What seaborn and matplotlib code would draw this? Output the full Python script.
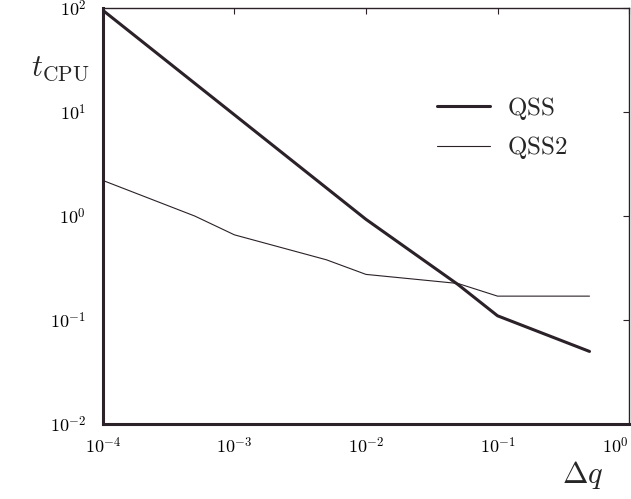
import math
import matplotlib
matplotlib.use('Agg')
import matplotlib.pyplot as plt
from matplotlib.lines import Line2D
import seaborn as sns
import pandas as pd

# step size and cpu time
dq_qss = [1e-4, 1e-3, 1e-2, 5e-2, 1e-1, 5e-1]
t_qss = [95, 9.4, 0.93, 0.22, 0.11, 0.05]

dq_qss2 = [1e-4, 5e-4, 1e-3, 5e-3, 1e-2, 5e-2, 1e-1, 5e-1]
t_qss2 = [2.2, 1.0, 0.66, 0.38, 0.275, 0.225, 0.17, 0.17]

x_ticks = [1e-4, 1e-3, 1e-2, 1e-1, 1e0]
y_ticks = [1e-2, 1e-1, 1e0, 1e1, 1e2]

ink = '#2b2128'

sns.set_style('white')
plt.rcParams['mathtext.fontset'] = 'cm'
plt.rcParams['font.family'] = ['DejaVu Serif']

df = pd.concat([
    pd.DataFrame({'dq': dq_qss, 't': t_qss, 'method': 'QSS'}),
    pd.DataFrame({'dq': dq_qss2, 't': t_qss2, 'method': 'QSS2'}),
])

fig = plt.figure(figsize=(6.31, 4.99), dpi=100)
ax = fig.add_axes([0.163, 0.150, 0.834, 0.834])

sns.lineplot(data=df, x='dq', y='t', hue='method', size='method',
             sizes={'QSS': 2.2, 'QSS2': 0.8},
             palette={'QSS': ink, 'QSS2': ink}, legend=False, ax=ax)

ax.set_xscale('log')
ax.set_yscale('log')
ax.set_xlim(1e-4, 1e0)
ax.set_ylim(1e-2, 1e2)
ax.set_xticks(x_ticks)
ax.set_yticks(y_ticks)
ax.minorticks_off()
ax.set_xticklabels([r'$10^{%d}$' % round(math.log10(v)) for v in x_ticks])
ax.set_yticklabels([r'$10^{%d}$' % round(math.log10(v)) for v in y_ticks])
ax.tick_params(direction='in', length=4, width=0.8, colors=ink, labelcolor='black',
               labelsize=13, top=True, right=True)
ax.tick_params(axis='x', pad=9)
ax.tick_params(axis='y', pad=12)
ax.get_xticklabels()[-1].set_ha('right')

for side in ['left', 'bottom']:
    ax.spines[side].set_color(ink)
    ax.spines[side].set_linewidth(2.2)
for side in ['top', 'right']:
    ax.spines[side].set_color(ink)
    ax.spines[side].set_linewidth(1.0)

ax.set_xlabel('')
ax.set_ylabel('')
fig.text(0.095, 0.865, r'$t_{\mathrm{CPU}}$', fontsize=22, ha='center', va='center')
fig.text(0.924, 0.048, r'$\Delta q$', fontsize=22, ha='center', va='center')

handles = [Line2D([], [], color=ink, lw=2.2), Line2D([], [], color=ink, lw=0.8)]
ax.legend(handles, [r'$\mathrm{QSS}$', r'$\mathrm{QSS2}$'], frameon=False,
          loc='upper left', bbox_to_anchor=(0.593, 0.845), fontsize=18,
          handlelength=2.1, handletextpad=0.7, labelspacing=0.5)

fig.savefig('out.png', dpi=100)
